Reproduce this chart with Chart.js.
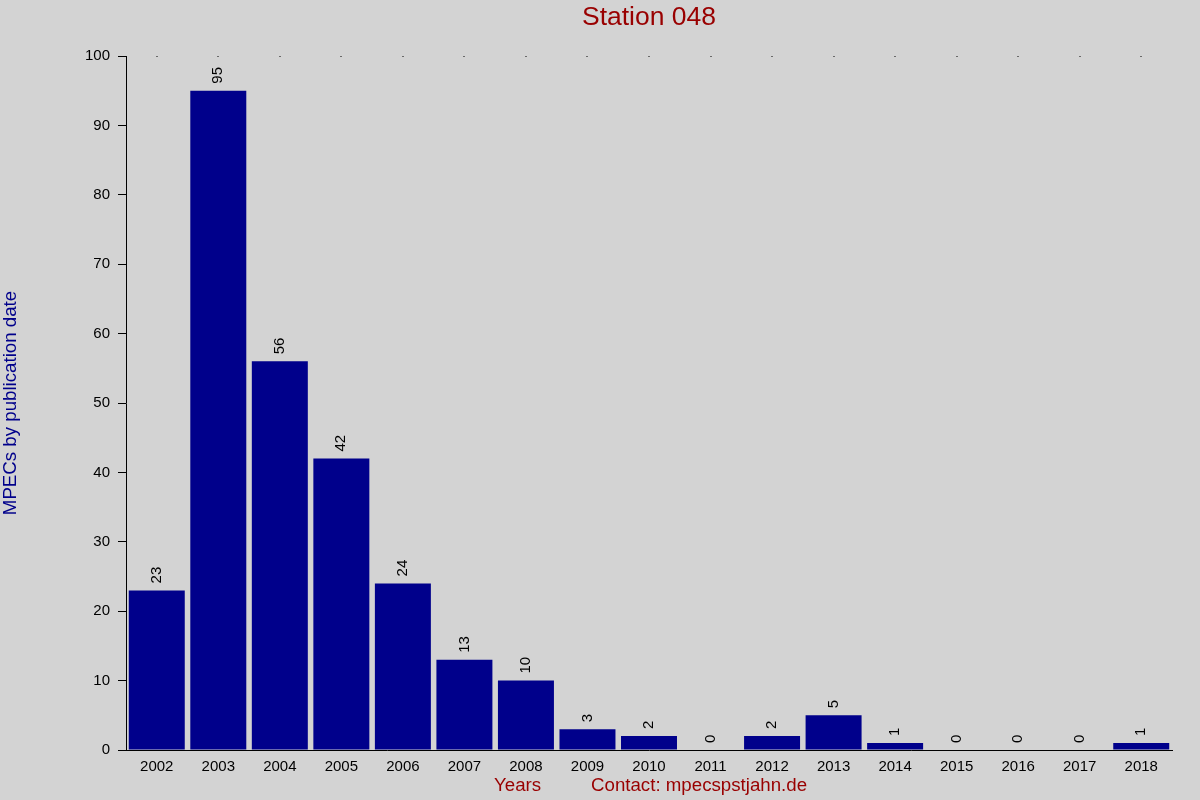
<!DOCTYPE html>
<html>
<head>
<meta charset="utf-8">
<title>Station 048</title>
<script src="https://cdn.jsdelivr.net/npm/chart.js@4"></script>
<style>
  html, body { margin: 0; padding: 0; background: #d3d3d3; }
  #wrap { width: 1200px; height: 800px; }
</style>
</head>
<body>
<div id="wrap"><canvas id="myChart" width="1200" height="800"></canvas></div>
<script>
const YEARS = ['2002', '2003', '2004', '2005', '2006', '2007', '2008', '2009', '2010',
               '2011', '2012', '2013', '2014', '2015', '2016', '2017', '2018'];
const MPECS = [23, 95, 56, 42, 24, 13, 10, 3, 2, 0, 2, 5, 1, 0, 0, 0, 1];
const Y_TICKS = [0, 10, 20, 30, 40, 50, 60, 70, 80, 90, 100];

const FONT = '"Liberation Sans", Arial, sans-serif';
const DARK_RED = '#990000';
const DARK_BLUE = '#00008b';

// texts, value labels and the small dots on top of the plot
const decorations = {
  id: 'decorations',
  afterDatasetsDraw(chart) {
    const ctx = chart.ctx;
    const area = chart.chartArea;
    const x = chart.scales.x;
    const meta = chart.getDatasetMeta(0);

    ctx.save();
    // dots on the top edge at every category
    ctx.fillStyle = '#000';
    YEARS.forEach((y, i) => {
      ctx.fillRect(Math.round(x.getPixelForValue(i)) - 0.5, area.top, 1, 1);
    });

    // value labels, rotated
    ctx.font = '15px ' + FONT;
    ctx.fillStyle = '#000';
    ctx.textAlign = 'left';
    ctx.textBaseline = 'middle';
    meta.data.forEach((bar, i) => {
      ctx.save();
      ctx.translate(bar.x, bar.y - 7);
      ctx.rotate(-Math.PI / 2);
      ctx.fillText(String(MPECS[i]), 0, 0);
      ctx.restore();
    });

    // title
    ctx.font = '26.5px ' + FONT;
    ctx.fillStyle = DARK_RED;
    ctx.textAlign = 'center';
    ctx.fillText('Station 048', (area.left + area.right) / 2, 18);

    // y axis title
    ctx.save();
    ctx.font = '18.7px ' + FONT;
    ctx.fillStyle = DARK_BLUE;
    ctx.translate(11, (area.top + area.bottom) / 2);
    ctx.rotate(-Math.PI / 2);
    ctx.fillText('MPECs by publication date', 0, 0);
    ctx.restore();

    // bottom texts
    ctx.font = '18.7px ' + FONT;
    ctx.fillStyle = DARK_RED;
    ctx.textAlign = 'left';
    ctx.fillText('Years', 494, 786);
    ctx.fillText('Contact: mpecspstjahn.de', 591, 786);
    ctx.restore();
  }
};

function renderChart() {
  const ctx = document.getElementById('myChart');

  let chartOptions = {
    type: 'bar',
    data: {
      labels: YEARS,
      datasets: [{
        label: 'MPECs',
        data: MPECS,
        backgroundColor: DARK_BLUE,
        borderWidth: 0,
        barPercentage: 0.91,
        categoryPercentage: 1
      }]
    },
    options: {
      responsive: false,
      animation: false,
      layout: { padding: { left: 0, top: 56, right: 28, bottom: 0 } },
      plugins: {
        legend: { display: false },
        title: { display: false },
        tooltip: { enabled: false }
      },
      scales: {
        x: {
          grid: { display: false },
          border: { display: true, color: '#000', width: 1 },
          ticks: { color: '#000', font: { family: FONT, size: 15 }, padding: 0, maxRotation: 0, autoSkip: false },
          afterFit(scale) { scale.height = 50; }
        },
        y: {
          min: 0,
          max: 100,
          afterBuildTicks(scale) { scale.ticks = Y_TICKS.map(v => ({ value: v })); },
          grid: { drawOnChartArea: false, drawTicks: true, tickLength: 8, color: '#000' },
          border: { display: true, color: '#000', width: 1 },
          ticks: { color: '#000', font: { family: FONT, size: 15 }, padding: 8 },
          afterFit(scale) { scale.width = 126; }
        }
      }
    },
    plugins: [decorations]
  };

  new Chart(ctx, chartOptions);
}

renderChart();
</script>
</body>
</html>
